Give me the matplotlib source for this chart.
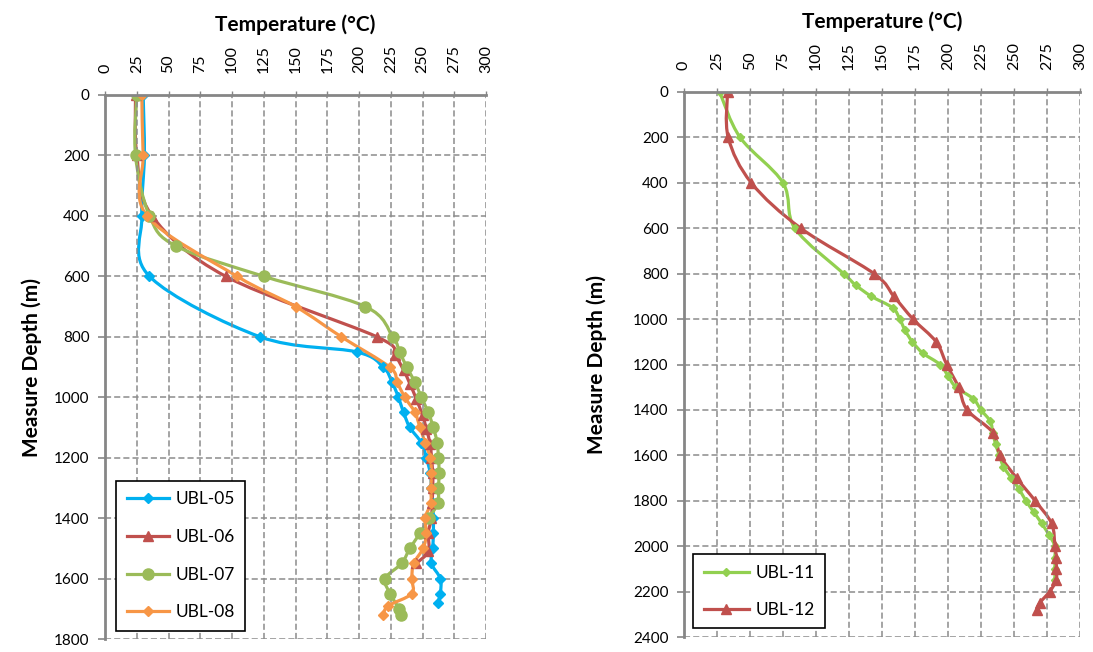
import matplotlib
matplotlib.use("Agg")
import matplotlib.pyplot as plt
import numpy as np
from matplotlib.path import Path
from matplotlib.patches import PathPatch
from matplotlib.lines import Line2D

plt.rcParams['font.family'] = ['Lato', 'DejaVu Sans']

# ---- left panel: UBL-05..08 (depth m, temperature C)
ubl05_depth = [0, 200, 400, 600, 800, 850, 900, 950, 1000, 1050, 1100, 1150, 1200,
               1250, 1300, 1350, 1400, 1450, 1500, 1550, 1600, 1650, 1680]
ubl05_temp = [30, 31, 29, 35, 122, 198, 219, 226, 231, 235, 240, 249, 253,
              256, 257, 258, 258.5, 258.5, 258, 257, 264, 264, 262]

ubl06_depth = [0, 200, 400, 600, 800, 860, 910, 955, 1005, 1060, 1105, 1155, 1200,
               1250, 1300, 1350, 1400, 1450, 1510, 1550]
ubl06_temp = [24, 25, 37, 95, 214, 228, 235, 240, 245, 250, 253, 256, 257,
              258, 258, 257.5, 257, 254.5, 254.5, 245]

ubl07_depth = [0, 200, 400, 500, 600, 700, 800, 850, 900, 950, 1000, 1050, 1100, 1150,
               1200, 1250, 1300, 1350, 1400, 1450, 1500, 1550, 1600, 1650, 1700, 1720]
ubl07_temp = [25, 24, 35, 56, 125, 205, 226.5, 232, 237.5, 244, 249, 254.5, 258.5, 261.5,
              262.5, 263, 262.5, 262, 255, 248, 240, 233.5, 220.5, 224.5, 231.5, 233]

ubl08_depth = [0, 200, 400, 600, 700, 800, 900, 950, 1000, 1050, 1100, 1150, 1200,
               1250, 1300, 1350, 1400, 1450, 1500, 1550, 1600, 1650, 1690, 1720]
ubl08_temp = [29, 30, 33, 104, 150, 186, 224, 230, 236, 244, 248, 252, 256,
              257, 256.5, 256.5, 252, 253, 250.5, 243, 241.5, 241.5, 223, 219]

# ---- right panel: UBL-11, UBL-12
ubl11_depth = [0, 200, 400, 600, 800, 850, 900, 950, 1000, 1050, 1100, 1150, 1200, 1250,
               1300, 1350, 1400, 1450, 1500, 1550, 1600, 1650, 1700, 1750, 1800, 1850,
               1900, 1950, 2000, 2050, 2100, 2150]
ubl11_temp = [27, 42.5, 75, 84, 121, 130, 142, 158, 163.5, 167.5, 173, 181, 194, 200,
              206, 219, 225, 232, 234, 236, 239, 242, 248, 254, 259, 265,
              271, 276.5, 281, 281, 281, 281]

ubl12_depth = [0, 200, 400, 600, 800, 900, 1000, 1100, 1200, 1300, 1400, 1500, 1600,
               1700, 1800, 1900, 2000, 2050, 2100, 2150, 2200, 2250, 2280]
ubl12_temp = [33, 33.5, 51, 88.5, 144, 159, 173.5, 191, 199, 208, 214.5, 234, 239.5,
              252, 266, 278.5, 281, 282, 282, 282, 277, 269.5, 267.5]

temp_ticks = list(range(0, 301, 25))


def smooth_path(x, y):
    # Excel-style smoothed line: Catmull-Rom as cubic Bezier segments
    pts = np.column_stack([x, y]).astype(float)
    n = len(pts)
    verts = [pts[0]]
    codes = [Path.MOVETO]
    for i in range(n - 1):
        p0 = pts[max(i - 1, 0)]
        p1, p2 = pts[i], pts[i + 1]
        p3 = pts[min(i + 2, n - 1)]
        verts += [p1 + (p2 - p0) / 6, p2 - (p3 - p1) / 6, p2]
        codes += [Path.CURVE4] * 3
    return Path(verts, codes)


def draw_series(ax, temp, depth, color, marker, ms, lw=2.3):
    ax.add_patch(PathPatch(smooth_path(temp, depth), fill=False, ec=color, lw=lw,
                           capstyle='round', joinstyle='round'))
    ax.plot(temp, depth, ls='none', marker=marker, ms=ms, color=color, mec=color)
    return Line2D([0], [0], color=color, lw=lw, marker=marker, ms=ms)


def style_axes(ax, ymax, ystep, ylabelpad):
    ax.set_xlim(0, 300)
    ax.set_ylim(ymax, 0)
    ax.xaxis.tick_top()
    ax.xaxis.set_label_position('top')
    ax.set_xticks(temp_ticks)
    ax.set_xticklabels([str(t) for t in temp_ticks], rotation=90, fontsize=11.5)
    ax.set_yticks(range(0, ymax + 1, ystep))
    ax.tick_params(axis='y', labelsize=11, length=5, width=1.2, color='#868686', pad=6)
    ax.tick_params(axis='x', length=3, width=1, color='#868686', pad=13)
    ax.grid(True, color='#8c8c8c', ls=(0, (4, 2)), lw=1.1)
    for s in ['right', 'bottom']:
        ax.spines[s].set_visible(False)
    for s in ['top', 'left']:
        ax.spines[s].set_color('#868686')
        ax.spines[s].set_linewidth(2)
    ax.set_xlabel('Temperature (°C)', fontsize=15, fontweight='bold', labelpad=10)
    ax.set_ylabel('Measure Depth (m)', fontsize=15, fontweight='bold', labelpad=ylabelpad)


fig = plt.figure(figsize=(10.93, 6.52), dpi=100)
ax1 = fig.add_axes([0.0961, 0.0199, 0.3486, 0.8344])
ax2 = fig.add_axes([0.6258, 0.0230, 0.3623, 0.8359])

h1 = [
    draw_series(ax1, ubl05_temp, ubl05_depth, '#00B0F0', 'D', 5),
    draw_series(ax1, ubl06_temp, ubl06_depth, '#C0504D', '^', 7.5),
    draw_series(ax1, ubl07_temp, ubl07_depth, '#9BBB59', 'o', 8),
    draw_series(ax1, ubl08_temp, ubl08_depth, '#F79646', 'D', 5.5),
]
style_axes(ax1, 1800, 200, 9)
leg1 = ax1.legend(h1, ['UBL-05', 'UBL-06', 'UBL-07', 'UBL-08'], loc='lower left',
                  bbox_to_anchor=(0.03, 0.015), borderaxespad=0, fontsize=12.5,
                  labelspacing=1.25, handlelength=2.4, handletextpad=0.4,
                  fancybox=False, edgecolor='black', framealpha=1, borderpad=0.6)
leg1.get_frame().set_linewidth(1.2)

h2 = [
    draw_series(ax2, ubl11_temp, ubl11_depth, '#92D050', 'D', 4.5),
    draw_series(ax2, ubl12_temp, ubl12_depth, '#C0504D', '^', 7.5),
]
style_axes(ax2, 2400, 200, 19)
leg2 = ax2.legend(h2, ['UBL-11', 'UBL-12'], loc='lower left',
                  bbox_to_anchor=(0.023, 0.0165), borderaxespad=0, fontsize=12.5,
                  labelspacing=1.2, handlelength=2.6, handletextpad=0.4,
                  fancybox=False, edgecolor='black', framealpha=1, borderpad=0.6)
leg2.get_frame().set_linewidth(1.2)

fig.savefig('out.png', dpi=100)
